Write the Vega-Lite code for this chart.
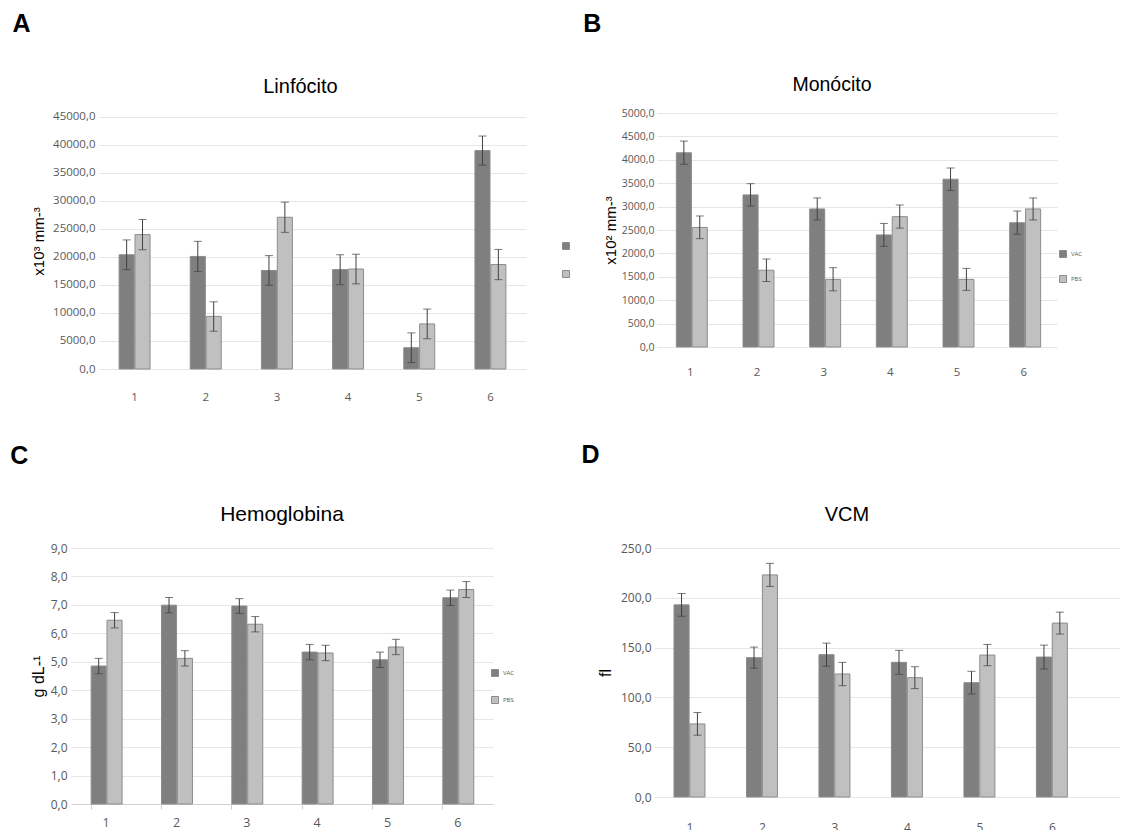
{
  "$schema": "https://vega.github.io/schema/vega-lite/v6.json",
  "padding": {"left": 2, "top": 11, "right": 0, "bottom": 0},
  "spacing": 40,
  "resolve": {"scale": {"color": "independent"}, "legend": {"color": "independent"}},
  "config": {
    "locale": {"number": {"decimal": ",", "thousands": ".", "grouping": [3], "currency": ["", ""]}},
    "view": {"stroke": null},
    "axis": {"labelFont": "Open Sans", "labelColor": "#595959", "labelFontSize": 11.5, "labelOverlap": false, "titleFont": "Liberation Sans", "titleFontWeight": "normal", "titleColor": "#000000", "gridColor": "#e6e6e6", "domain": false, "ticks": false},
    "title": {"font": "Liberation Sans", "fontWeight": "normal", "color": "#000000"},
    "legend": {"symbolType": "square", "symbolSize": 49, "symbolStrokeColor": "#8c8c8c", "symbolStrokeWidth": 1, "labelFont": "Open Sans", "labelFontSize": 6, "labelColor": "#595959", "title": null}
  },
  "datasets": {
    "vazio": [],
    "hemograma": [
    {"panel": "A", "grupo": "1", "serie": "VAC", "valor": 20400, "lo": 17750, "hi": 23050},
    {"panel": "A", "grupo": "1", "serie": "PBS", "valor": 24000, "lo": 21300, "hi": 26700},
    {"panel": "A", "grupo": "2", "serie": "VAC", "valor": 20100, "lo": 17400, "hi": 22800},
    {"panel": "A", "grupo": "2", "serie": "PBS", "valor": 9400, "lo": 6750, "hi": 12000},
    {"panel": "A", "grupo": "3", "serie": "VAC", "valor": 17600, "lo": 14950, "hi": 20250},
    {"panel": "A", "grupo": "3", "serie": "PBS", "valor": 27100, "lo": 24400, "hi": 29800},
    {"panel": "A", "grupo": "4", "serie": "VAC", "valor": 17750, "lo": 15050, "hi": 20400},
    {"panel": "A", "grupo": "4", "serie": "PBS", "valor": 17850, "lo": 15200, "hi": 20500},
    {"panel": "A", "grupo": "5", "serie": "VAC", "valor": 3800, "lo": 1150, "hi": 6450},
    {"panel": "A", "grupo": "5", "serie": "PBS", "valor": 8050, "lo": 5400, "hi": 10700},
    {"panel": "A", "grupo": "6", "serie": "VAC", "valor": 39000, "lo": 36400, "hi": 41600},
    {"panel": "A", "grupo": "6", "serie": "PBS", "valor": 18650, "lo": 15950, "hi": 21350},
    {"panel": "B", "grupo": "1", "serie": "VAC", "valor": 4150, "lo": 3905, "hi": 4400},
    {"panel": "B", "grupo": "1", "serie": "PBS", "valor": 2555, "lo": 2315, "hi": 2800},
    {"panel": "B", "grupo": "2", "serie": "VAC", "valor": 3250, "lo": 3010, "hi": 3490},
    {"panel": "B", "grupo": "2", "serie": "PBS", "valor": 1640, "lo": 1400, "hi": 1880},
    {"panel": "B", "grupo": "3", "serie": "VAC", "valor": 2950, "lo": 2715, "hi": 3185},
    {"panel": "B", "grupo": "3", "serie": "PBS", "valor": 1445, "lo": 1200, "hi": 1695},
    {"panel": "B", "grupo": "4", "serie": "VAC", "valor": 2395, "lo": 2150, "hi": 2640},
    {"panel": "B", "grupo": "4", "serie": "PBS", "valor": 2785, "lo": 2540, "hi": 3035},
    {"panel": "B", "grupo": "5", "serie": "VAC", "valor": 3585, "lo": 3345, "hi": 3825},
    {"panel": "B", "grupo": "5", "serie": "PBS", "valor": 1445, "lo": 1210, "hi": 1680},
    {"panel": "B", "grupo": "6", "serie": "VAC", "valor": 2655, "lo": 2410, "hi": 2905},
    {"panel": "B", "grupo": "6", "serie": "PBS", "valor": 2950, "lo": 2715, "hi": 3185},
    {"panel": "C", "grupo": "1", "serie": "VAC", "valor": 4.85, "lo": 4.58, "hi": 5.12},
    {"panel": "C", "grupo": "1", "serie": "PBS", "valor": 6.46, "lo": 6.19, "hi": 6.73},
    {"panel": "C", "grupo": "2", "serie": "VAC", "valor": 6.99, "lo": 6.72, "hi": 7.26},
    {"panel": "C", "grupo": "2", "serie": "PBS", "valor": 5.12, "lo": 4.85, "hi": 5.39},
    {"panel": "C", "grupo": "3", "serie": "VAC", "valor": 6.96, "lo": 6.70, "hi": 7.22},
    {"panel": "C", "grupo": "3", "serie": "PBS", "valor": 6.32, "lo": 6.05, "hi": 6.59},
    {"panel": "C", "grupo": "4", "serie": "VAC", "valor": 5.34, "lo": 5.07, "hi": 5.61},
    {"panel": "C", "grupo": "4", "serie": "PBS", "valor": 5.31, "lo": 5.04, "hi": 5.58},
    {"panel": "C", "grupo": "5", "serie": "VAC", "valor": 5.07, "lo": 4.80, "hi": 5.34},
    {"panel": "C", "grupo": "5", "serie": "PBS", "valor": 5.52, "lo": 5.25, "hi": 5.79},
    {"panel": "C", "grupo": "6", "serie": "VAC", "valor": 7.25, "lo": 6.98, "hi": 7.52},
    {"panel": "C", "grupo": "6", "serie": "PBS", "valor": 7.54, "lo": 7.26, "hi": 7.82},
    {"panel": "D", "grupo": "1", "serie": "VAC", "valor": 192.9, "lo": 181.5, "hi": 204.3},
    {"panel": "D", "grupo": "1", "serie": "PBS", "valor": 73.4, "lo": 62.0, "hi": 84.8},
    {"panel": "D", "grupo": "2", "serie": "VAC", "valor": 139.9, "lo": 129.3, "hi": 150.5},
    {"panel": "D", "grupo": "2", "serie": "PBS", "valor": 223.0, "lo": 211.4, "hi": 234.6},
    {"panel": "D", "grupo": "3", "serie": "VAC", "valor": 142.9, "lo": 131.3, "hi": 154.5},
    {"panel": "D", "grupo": "3", "serie": "PBS", "valor": 123.5, "lo": 111.8, "hi": 135.2},
    {"panel": "D", "grupo": "4", "serie": "VAC", "valor": 135.2, "lo": 123.2, "hi": 147.2},
    {"panel": "D", "grupo": "4", "serie": "PBS", "valor": 119.8, "lo": 108.8, "hi": 130.8},
    {"panel": "D", "grupo": "5", "serie": "VAC", "valor": 114.8, "lo": 103.4, "hi": 126.2},
    {"panel": "D", "grupo": "5", "serie": "PBS", "valor": 142.5, "lo": 131.8, "hi": 153.2},
    {"panel": "D", "grupo": "6", "serie": "VAC", "valor": 140.5, "lo": 128.5, "hi": 152.5},
    {"panel": "D", "grupo": "6", "serie": "PBS", "valor": 174.6, "lo": 163.6, "hi": 185.6}
  ]},
  "data": {"name": "hemograma"},
  "vconcat": [
    {"hconcat": [
      {"width": 1, "height": 1, "data": {"name": "vazio"}, "mark": "rect"},
      {"title": {"text": "A", "anchor": "start", "frame": "bounds", "fontSize": 25, "fontWeight": "bold", "offset": 40, "dx": -19},
       "resolve": {"scale": {"color": "independent"}, "legend": {"color": "independent"}},
       "vconcat": [{
        "width": 427, "height": 256,
        "title": {"text": "Linfócito", "fontSize": 20, "offset": 14, "dx": -12},
        "transform": [{"filter": "datum.panel == 'A'"}],
        "encoding": {
          "x": {"field": "grupo", "type": "nominal", "scale": {"paddingInner": 0.565, "paddingOuter": 0.2825}, "axis": {"title": null, "labelAngle": 0, "labelPadding": 22, "grid": false}},
          "xOffset": {"field": "serie", "type": "nominal", "sort": ["VAC", "PBS"], "scale": {"paddingInner": 0.05}}
        },
        "layer": [
          {"mark": {"type": "bar", "stroke": "#8c8c8c", "strokeWidth": 1},
           "encoding": {
             "y": {"field": "valor", "type": "quantitative", "scale": {"domain": [0, 45714], "nice": false}, "axis": {"title": "x10³ mm-³", "titleFontSize": 15, "titlePadding": 6, "labelPadding": 4, "format": ".1f", "values": [0, 5000, 10000, 15000, 20000, 25000, 30000, 35000, 40000, 45000]}},
             "color": {"field": "serie", "type": "nominal", "sort": ["VAC", "PBS"], "scale": {"domain": ["VAC", "PBS"], "range": ["#7f7f7f", "#c0c0c0"]}, "legend": {"orient": "none", "legendX": 463, "legendY": 129, "rowPadding": 16, "labelExpr": "''"}}
           }},
          {"mark": {"type": "rule", "color": "#404040", "strokeWidth": 1}, "encoding": {"y": {"field": "lo", "type": "quantitative", "axis": {"title": "x10³ mm-³", "titleFontSize": 15, "titlePadding": 6, "labelPadding": 4, "format": ".1f", "values": [0, 5000, 10000, 15000, 20000, 25000, 30000, 35000, 40000, 45000]}}, "y2": {"field": "hi"}}},
          {"mark": {"type": "tick", "color": "#404040", "thickness": 1, "size": 8, "orient": "horizontal"}, "encoding": {"y": {"field": "lo", "type": "quantitative", "axis": {"title": "x10³ mm-³", "titleFontSize": 15, "titlePadding": 6, "labelPadding": 4, "format": ".1f", "values": [0, 5000, 10000, 15000, 20000, 25000, 30000, 35000, 40000, 45000]}}}},
          {"mark": {"type": "tick", "color": "#404040", "thickness": 1, "size": 8, "orient": "horizontal"}, "encoding": {"y": {"field": "hi", "type": "quantitative", "axis": {"title": "x10³ mm-³", "titleFontSize": 15, "titlePadding": 6, "labelPadding": 4, "format": ".1f", "values": [0, 5000, 10000, 15000, 20000, 25000, 30000, 35000, 40000, 45000]}}}}
        ]
      }]},
      {"title": {"text": "B", "anchor": "start", "frame": "bounds", "fontSize": 25, "fontWeight": "bold", "offset": 38, "dx": -20},
       "resolve": {"scale": {"color": "independent"}, "legend": {"color": "independent"}},
       "vconcat": [{
        "width": 400, "height": 234,
        "title": {"text": "Monócito", "fontSize": 19.5, "offset": 13, "dx": -25},
        "transform": [{"filter": "datum.panel == 'B'"}],
        "encoding": {
          "x": {"field": "grupo", "type": "nominal", "scale": {"paddingInner": 0.58, "paddingOuter": 0.29}, "axis": {"title": null, "labelAngle": 0, "labelPadding": 19, "grid": false}},
          "xOffset": {"field": "serie", "type": "nominal", "sort": ["VAC", "PBS"], "scale": {"paddingInner": 0.05}}
        },
        "layer": [
          {"mark": {"type": "bar", "stroke": "#8c8c8c", "strokeWidth": 1},
           "encoding": {
             "y": {"field": "valor", "type": "quantitative", "scale": {"domain": [0, 5000], "nice": false}, "axis": {"title": "x10² mm-³", "titleFontSize": 15, "titlePadding": 3, "labelPadding": 3, "labelFontSize": 10.5, "format": ".1f", "values": [0, 500, 1000, 1500, 2000, 2500, 3000, 3500, 4000, 4500, 5000]}},
             "color": {"field": "serie", "type": "nominal", "sort": ["VAC", "PBS"], "scale": {"domain": ["VAC", "PBS"], "range": ["#7f7f7f", "#c0c0c0"]}, "legend": {"orient": "none", "legendX": 402, "legendY": 137, "rowPadding": 13}}
           }},
          {"mark": {"type": "rule", "color": "#404040", "strokeWidth": 1}, "encoding": {"y": {"field": "lo", "type": "quantitative", "axis": {"title": "x10² mm-³", "titleFontSize": 15, "titlePadding": 3, "labelPadding": 3, "labelFontSize": 10.5, "format": ".1f", "values": [0, 500, 1000, 1500, 2000, 2500, 3000, 3500, 4000, 4500, 5000]}}, "y2": {"field": "hi"}}},
          {"mark": {"type": "tick", "color": "#404040", "thickness": 1, "size": 8, "orient": "horizontal"}, "encoding": {"y": {"field": "lo", "type": "quantitative", "axis": {"title": "x10² mm-³", "titleFontSize": 15, "titlePadding": 3, "labelPadding": 3, "labelFontSize": 10.5, "format": ".1f", "values": [0, 500, 1000, 1500, 2000, 2500, 3000, 3500, 4000, 4500, 5000]}}}},
          {"mark": {"type": "tick", "color": "#404040", "thickness": 1, "size": 8, "orient": "horizontal"}, "encoding": {"y": {"field": "hi", "type": "quantitative", "axis": {"title": "x10² mm-³", "titleFontSize": 15, "titlePadding": 3, "labelPadding": 3, "labelFontSize": 10.5, "format": ".1f", "values": [0, 500, 1000, 1500, 2000, 2500, 3000, 3500, 4000, 4500, 5000]}}}}
        ]
      }]}
    ], "spacing": 9, "resolve": {"scale": {"color": "independent"}, "legend": {"color": "independent"}}},
    {"hconcat": [
      {"width": 1, "height": 1, "data": {"name": "vazio"}, "mark": "rect"},
      {"title": {"text": "C", "anchor": "start", "frame": "bounds", "fontSize": 25, "fontWeight": "bold", "offset": 35, "dx": -20},
       "resolve": {"scale": {"color": "independent"}, "legend": {"color": "independent"}},
       "vconcat": [{
        "width": 422, "height": 256,
        "title": {"text": "Hemoglobina", "fontSize": 21, "offset": 17},
        "transform": [{"filter": "datum.panel == 'C'"}],
        "encoding": {
          "x": {"field": "grupo", "type": "nominal", "scale": {"paddingInner": 0.573, "paddingOuter": 0.2865}, "axis": {"title": null, "labelAngle": 0, "labelPadding": 7, "labelFontSize": 12.5, "grid": false, "domain": true, "domainColor": "#d0d0d0", "ticks": true, "tickColor": "#d0d0d0", "tickSize": 5, "bandPosition": 0}},
          "xOffset": {"field": "serie", "type": "nominal", "sort": ["VAC", "PBS"], "scale": {"paddingInner": 0.05}}
        },
        "layer": [
          {"mark": {"type": "bar", "stroke": "#8c8c8c", "strokeWidth": 1},
           "encoding": {
             "y": {"field": "valor", "type": "quantitative", "scale": {"domain": [0, 9], "nice": false}, "axis": {"title": "g dL-¹", "titleFontSize": 16, "titlePadding": 4, "labelPadding": 4, "labelFontSize": 12, "format": ".1f", "values": [0, 1, 2, 3, 4, 5, 6, 7, 8, 9]}},
             "color": {"field": "serie", "type": "nominal", "sort": ["VAC", "PBS"], "scale": {"domain": ["VAC", "PBS"], "range": ["#7f7f7f", "#c0c0c0"]}, "legend": {"orient": "none", "legendX": 361, "legendY": 62, "rowPadding": 15, "padding": 59}}
           }},
          {"mark": {"type": "rule", "color": "#404040", "strokeWidth": 1}, "encoding": {"y": {"field": "lo", "type": "quantitative", "axis": {"title": "g dL-¹", "titleFontSize": 16, "titlePadding": 4, "labelPadding": 4, "labelFontSize": 12, "format": ".1f", "values": [0, 1, 2, 3, 4, 5, 6, 7, 8, 9]}}, "y2": {"field": "hi"}}},
          {"mark": {"type": "tick", "color": "#404040", "thickness": 1, "size": 8, "orient": "horizontal"}, "encoding": {"y": {"field": "lo", "type": "quantitative", "axis": {"title": "g dL-¹", "titleFontSize": 16, "titlePadding": 4, "labelPadding": 4, "labelFontSize": 12, "format": ".1f", "values": [0, 1, 2, 3, 4, 5, 6, 7, 8, 9]}}}},
          {"mark": {"type": "tick", "color": "#404040", "thickness": 1, "size": 8, "orient": "horizontal"}, "encoding": {"y": {"field": "hi", "type": "quantitative", "axis": {"title": "g dL-¹", "titleFontSize": 16, "titlePadding": 4, "labelPadding": 4, "labelFontSize": 12, "format": ".1f", "values": [0, 1, 2, 3, 4, 5, 6, 7, 8, 9]}}}}
        ]
      }]},
      {"title": {"text": "D", "anchor": "start", "frame": "bounds", "fontSize": 25, "fontWeight": "bold", "offset": 37, "dx": -16},
       "resolve": {"scale": {"color": "independent"}, "legend": {"color": "independent"}},
       "vconcat": [{
        "width": 466, "height": 249,
        "title": {"text": "VCM", "fontSize": 20, "offset": 17, "dx": -40},
        "transform": [{"filter": "datum.panel == 'D'"}],
        "encoding": {
          "x": {"field": "grupo", "type": "nominal", "scale": {"paddingInner": 0.56, "paddingOuter": 0.4945, "align": 0.279}, "axis": {"title": null, "labelAngle": 0, "labelPadding": 25, "labelFontSize": 12, "grid": false}},
          "xOffset": {"field": "serie", "type": "nominal", "sort": ["VAC", "PBS"], "scale": {"paddingInner": 0.05}}
        },
        "layer": [
          {"mark": {"type": "bar", "stroke": "#8c8c8c", "strokeWidth": 1},
           "encoding": {
             "y": {"field": "valor", "type": "quantitative", "scale": {"domain": [0, 250], "nice": false}, "axis": {"title": "fl", "titleFontSize": 16, "titlePadding": 7, "labelPadding": 3, "labelFontSize": 12, "format": ".1f", "values": [0, 50, 100, 150, 200, 250]}},
             "color": {"field": "serie", "type": "nominal", "sort": ["VAC", "PBS"], "scale": {"domain": ["VAC", "PBS"], "range": ["#7f7f7f", "#c0c0c0"]}, "legend": null}
           }},
          {"mark": {"type": "rule", "color": "#404040", "strokeWidth": 1}, "encoding": {"y": {"field": "lo", "type": "quantitative", "axis": {"title": "fl", "titleFontSize": 16, "titlePadding": 7, "labelPadding": 3, "labelFontSize": 12, "format": ".1f", "values": [0, 50, 100, 150, 200, 250]}}, "y2": {"field": "hi"}}},
          {"mark": {"type": "tick", "color": "#404040", "thickness": 1, "size": 8, "orient": "horizontal"}, "encoding": {"y": {"field": "lo", "type": "quantitative", "axis": {"title": "fl", "titleFontSize": 16, "titlePadding": 7, "labelPadding": 3, "labelFontSize": 12, "format": ".1f", "values": [0, 50, 100, 150, 200, 250]}}}},
          {"mark": {"type": "tick", "color": "#404040", "thickness": 1, "size": 8, "orient": "horizontal"}, "encoding": {"y": {"field": "hi", "type": "quantitative", "axis": {"title": "fl", "titleFontSize": 16, "titlePadding": 7, "labelPadding": 3, "labelFontSize": 12, "format": ".1f", "values": [0, 50, 100, 150, 200, 250]}}}}
        ]
      }]}
    ], "spacing": 7, "resolve": {"scale": {"color": "independent"}, "legend": {"color": "independent"}}}
  ]
}
